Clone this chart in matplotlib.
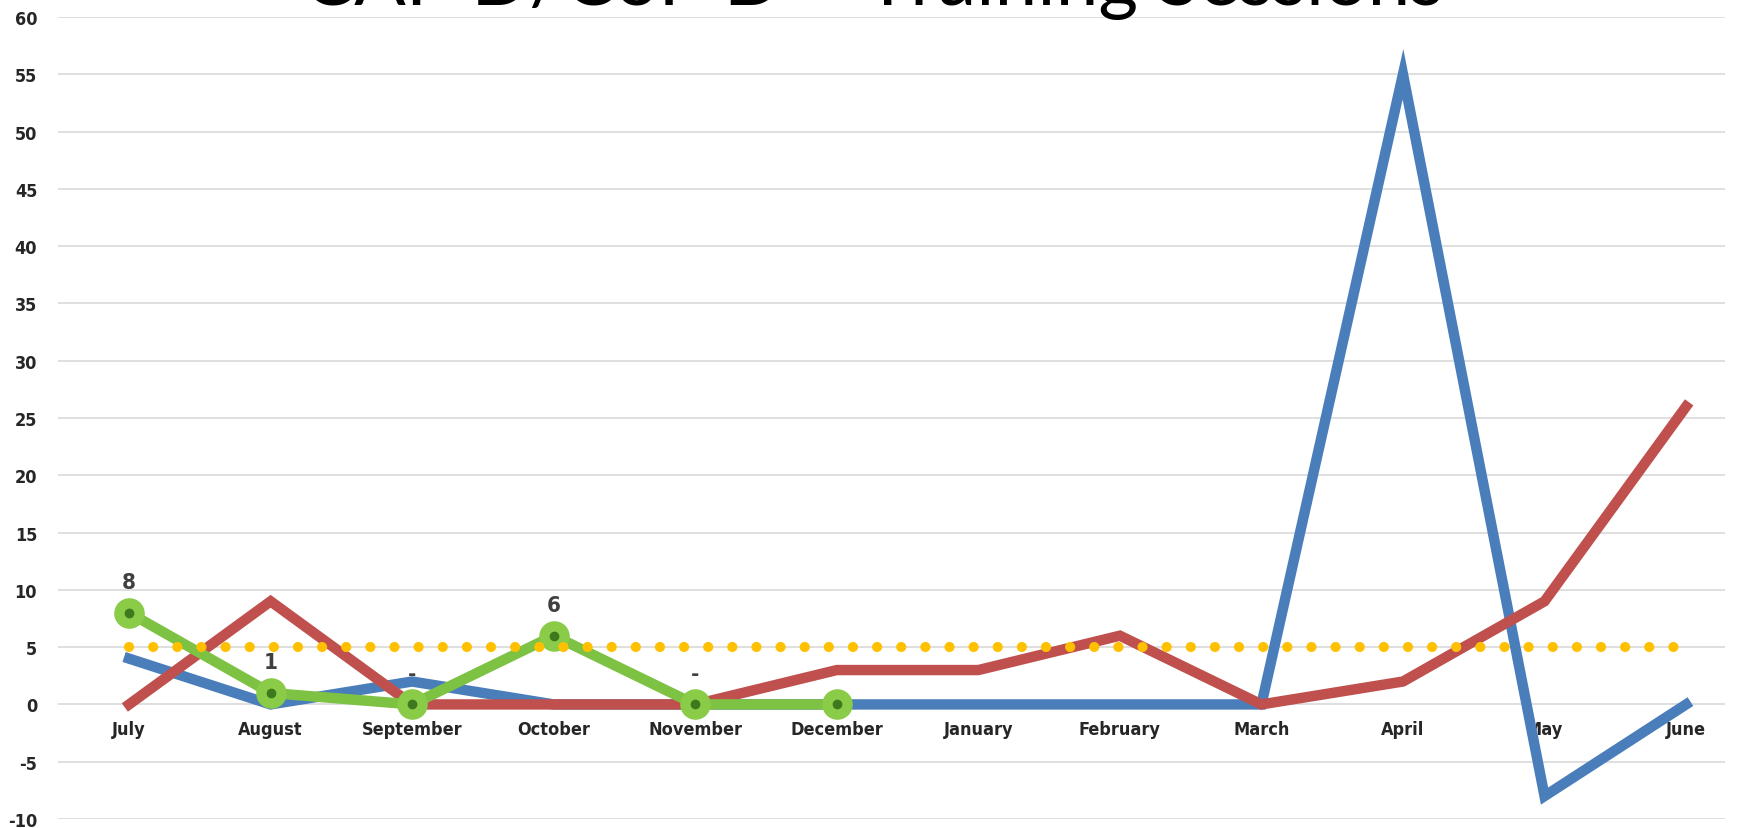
import matplotlib
matplotlib.use("Agg")
import matplotlib.pyplot as plt

months = ["July", "August", "September", "October", "November", "December",
          "January", "February", "March", "April", "May", "June"]
blue_vals = [4, 0, 2, 0, 0, 0, 0, 0, 0, 55, -8, 0]
red_vals = [0, 9, 0, 0, 0, 3, 3, 6, 0, 2, 9, 26]
green_vals = [8, 1, 0, 6, 0, 0]
green_labels = ["8", "1", "-", "6", "-", ""]
target_vals = [5] * 12
title = "CAP D/CoP D \u2013 Training Sessions"

plt.rcParams['font.family'] = ['DejaVu Sans']
plt.rcParams['font.stretch'] = 'condensed'
plt.rcParams['axes.unicode_minus'] = False

fig = plt.figure(figsize=(17.62, 8.29), dpi=100)
ax = fig.add_axes([58 / 1762, 9 / 829, 1667 / 1762, 802 / 829])

x = list(range(len(months)))
ax.plot(x, blue_vals, color='#4A7EBB', lw=7.5, solid_joinstyle='miter', zorder=3)
ax.plot(x, red_vals, color='#C0504D', lw=7.5, solid_joinstyle='miter', zorder=4)
gx = x[:len(green_vals)]
ax.plot(gx, green_vals, color='#7DC242', lw=7.5, marker='o', ms=21,
        mfc='#8ACB48', mec='#8ACB48', zorder=5)
ax.plot(gx, green_vals, ls='none', marker='o', ms=6, color='#3D7A1E', zorder=6)
ax.plot(x, target_vals, color='#FFC000', lw=7.3, ls=(0, (0.01, 2.37)),
        dash_capstyle='round', zorder=7)

for xi, v, lab in zip(gx, green_vals, green_labels):
    if lab:
        ax.annotate(lab, (xi, v), xytext=(0, 22), textcoords='offset points',
                    ha='center', va='center', fontsize=16, fontweight='bold',
                    color='#404040', zorder=8)

ax.set_xlim(-0.502, 11.275)
ax.set_ylim(-10, 60)
ax.set_yticks(range(-10, 61, 5))
ax.yaxis.grid(True, color='#D9D9D9', lw=1.2)
ax.set_axisbelow(True)
ax.set_xticks(x)
ax.set_xticklabels(months)
ax.spines['bottom'].set_position(('data', 0))
for s in ax.spines.values():
    s.set_visible(False)
ax.tick_params(axis='x', length=0, pad=11, labelsize=13, labelcolor='#262626')
ax.tick_params(axis='y', length=0, pad=15, labelsize=13, labelcolor='#262626')
for lab in ax.get_xticklabels() + ax.get_yticklabels():
    lab.set_fontweight('bold')

fig.text(873 / 1762, 1 - 5 / 829, title, ha='center', va='baseline',
         fontsize=55, family=['Lato', 'DejaVu Sans'], fontstretch='normal',
         color='black')

fig.savefig("out.png", dpi=100, facecolor='white')
